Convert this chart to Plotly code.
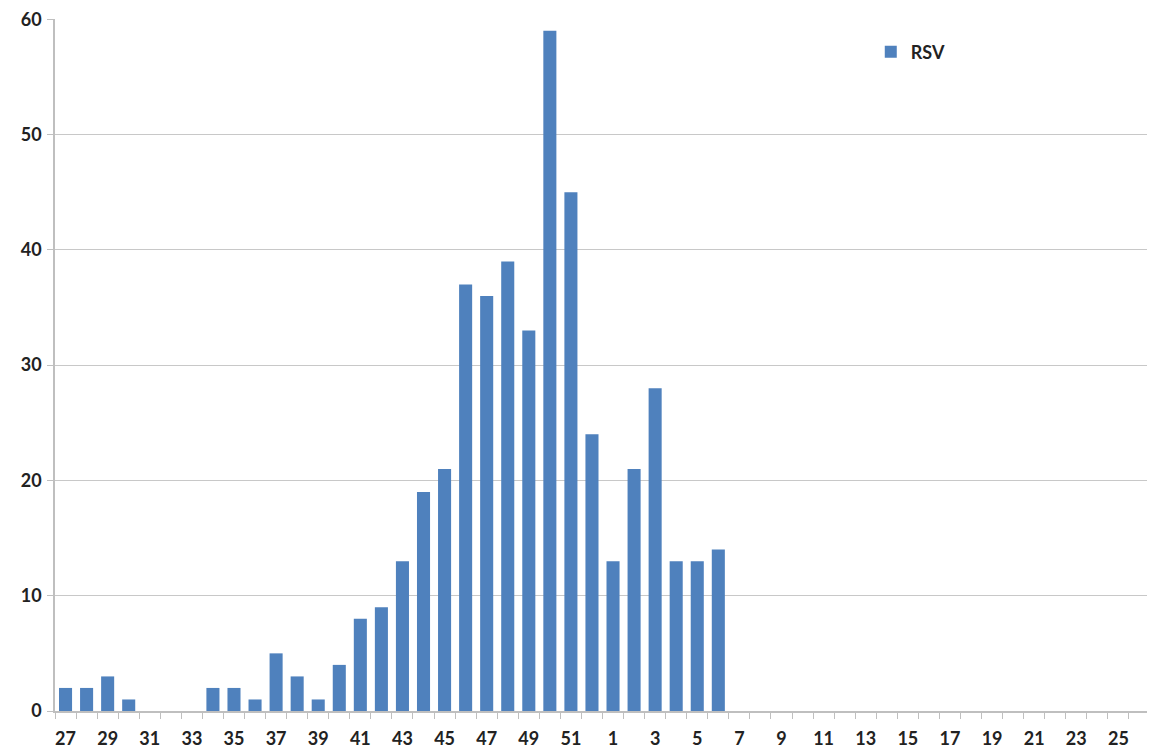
import plotly.graph_objects as go

weeks = [str(w) for w in list(range(27, 53)) + list(range(1, 27))]
rsv = [2, 2, 3, 1, 0, 0, 0, 2, 2, 1, 5, 3, 1, 4, 8, 9, 13, 19, 21, 37, 36, 39, 33, 59, 45, 24,
       13, 21, 28, 13, 13, 14, 0, 0, 0, 0, 0, 0, 0, 0, 0, 0, 0, 0, 0, 0, 0, 0, 0, 0, 0, 0]
tick_text = [w if i % 2 == 0 else "" for i, w in enumerate(weeks)]
y_ticks = [0, 10, 20, 30, 40, 50, 60]

font_family = "Lato, 'Open Sans', sans-serif"

fig = go.Figure()
fig.add_trace(go.Bar(x=weeks, y=rsv, name="<b>RSV</b>", marker_color="#4f81bd", marker_line_width=0))

fig.update_layout(
    width=1147, height=745,
    margin=dict(l=47, r=5, t=11, b=42, autoexpand=False),
    plot_bgcolor="white", paper_bgcolor="white",
    bargap=0.38,
    showlegend=True,
    legend=dict(x=0.745, y=0.979, xanchor="left", yanchor="top",
                font=dict(family=font_family, size=18, color="#222"),
                bgcolor="rgba(0,0,0,0)"),
    font=dict(family=font_family, size=18, color="#222"),
)
fig.update_xaxes(
    type="category", tickmode="array", tickvals=weeks, ticktext=tick_text,
    tickangle=0, automargin=False, ticklabelstandoff=11, ticklabeloverflow="allow",
    tickson="boundaries", ticks="outside", ticklen=6, tickcolor="#bfbfbf",
    showline=True, linecolor="#bfbfbf", linewidth=1.5, showgrid=False,
    tickfont=dict(family=font_family, size=18, color="#222", weight="bold"),
)
fig.update_yaxes(
    range=[0, 60.03], tickmode="array", tickvals=y_ticks, automargin=False,
    ticks="outside", ticklen=6, tickcolor="#bfbfbf", ticklabelstandoff=2,
    ticklabeloverflow="allow",
    showline=True, linecolor="#bfbfbf", linewidth=1.5,
    showgrid=True, gridcolor="#c8c8c8", gridwidth=1.2, zeroline=False,
    tickfont=dict(family=font_family, size=18, color="#222", weight="bold"),
)

fig.write_html("out.html")
